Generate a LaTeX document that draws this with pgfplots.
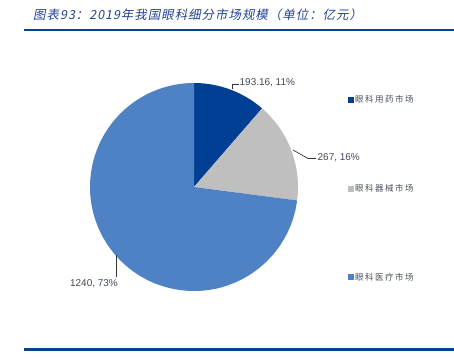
\documentclass[border=0pt]{standalone}
\usepackage{fontspec}
\usepackage{pgfplots}
\usepackage{pgfplotstable}
\pgfplotsset{compat=1.18}
\setmainfont{Liberation Sans}
\newfontfamily\cjkleg{Noto Sans CJK SC}[LetterSpace=18]
\newfontfamily\cjktitle{Noto Sans CJK SC}[FakeSlant=0.2,LetterSpace=8]
\definecolor{cA}{RGB}{0,63,148}
\definecolor{cB}{RGB}{191,191,191}
\definecolor{cC}{RGB}{79,130,196}
\definecolor{lineC}{RGB}{10,65,150}
\definecolor{titleC}{RGB}{35,65,145}
\definecolor{labC}{RGB}{64,72,88}
\definecolor{legC}{RGB}{70,78,92}

\pgfplotstableread{
value pct
193.16 11
267 16
1240 73
}\piedata

\begin{document}
\begin{tikzpicture}
\pgfplotstablegetelem{0}{value}\of\piedata \let\vA\pgfplotsretval
\pgfplotstablegetelem{1}{value}\of\piedata \let\vB\pgfplotsretval
\pgfplotstablegetelem{2}{value}\of\piedata \let\vC\pgfplotsretval
\pgfplotstablegetelem{0}{pct}\of\piedata \let\pA\pgfplotsretval
\pgfplotstablegetelem{1}{pct}\of\piedata \let\pB\pgfplotsretval
\pgfplotstablegetelem{2}{pct}\of\piedata \let\pC\pgfplotsretval
\pgfmathsetmacro\tot{\vA+\vB+\vC}
\pgfmathsetmacro\aO{90}
\pgfmathsetmacro\aA{90-360*(\vA/\tot)}
\pgfmathsetmacro\aB{\aA-360*(\vB/\tot)}
\pgfmathsetmacro\aC{\aB-360*(\vC/\tot)}
\pgfmathsetmacro\cx{194}
\pgfmathsetmacro\cy{171}
\pgfmathsetmacro\R{104}
\pgfmathsetmacro\xO{\cx+\R*cos(\aO)}\pgfmathsetmacro\yO{\cy+\R*sin(\aO)}
\pgfmathsetmacro\xA{\cx+\R*cos(\aA)}\pgfmathsetmacro\yA{\cy+\R*sin(\aA)}
\pgfmathsetmacro\xB{\cx+\R*cos(\aB)}\pgfmathsetmacro\yB{\cy+\R*sin(\aB)}
\begin{axis}[
  hide axis, scale only axis, width=454bp, height=358bp,
  xmin=0, xmax=454, ymin=0, ymax=358, clip=false,
  legend cell align=left,
  legend style={draw=none, fill=none, at={(axis cs:345,169.5)}, anchor=west,
    font=\cjkleg\fontsize{8.5}{10}\selectfont, text=legC,
    row sep=77bp, nodes={inner sep=1.5bp}},
]
\addlegendimage{legend image code/.code={\fill[cA] (0bp,-2.5bp) rectangle (5bp,2.5bp);}}
\addlegendentry{眼科用药市场}
\addlegendimage{legend image code/.code={\fill[cB] (0bp,-2.5bp) rectangle (5bp,2.5bp);}}
\addlegendentry{眼科器械市场}
\addlegendimage{legend image code/.code={\fill[cC] (0bp,-2.5bp) rectangle (5bp,2.5bp);}}
\addlegendentry{眼科医疗市场}

\fill[cA] (axis cs:\cx,\cy) -- (axis cs:\xO,\yO) arc[start angle=\aO, end angle=\aA, radius=104bp] -- cycle;
\fill[cB] (axis cs:\cx,\cy) -- (axis cs:\xA,\yA) arc[start angle=\aA, end angle=\aB, radius=104bp] -- cycle;
\fill[cC] (axis cs:\cx,\cy) -- (axis cs:\xB,\yB) arc[start angle=\aB, end angle=\aC, radius=104bp] -- cycle;

% leader lines and labels
\draw[black!80, line width=0.7bp] (axis cs:232.5,268.7) -- (axis cs:232.5,273.5) -- (axis cs:239,273.5);
\node[anchor=west, inner sep=0.5bp, font=\fontsize{10}{12}\selectfont, text=labC] at (axis cs:239,275.5) {\vA, \pA\%};
\draw[black!80, line width=0.7bp] (axis cs:293,208) -- (axis cs:308,199.5) -- (axis cs:316,199.5);
\node[anchor=west, inner sep=0.5bp, font=\fontsize{10}{12}\selectfont, text=labC] at (axis cs:317,200.5) {\vB, \pB\%};
\draw[black!80, line width=0.7bp] (axis cs:116.7,103) -- (axis cs:116.7,81);
\node[anchor=east, inner sep=0.5bp, font=\fontsize{10}{12}\selectfont, text=labC] at (axis cs:118.5,74) {\vC, \pC\%};

% title and rules
\node[anchor=west, inner sep=0pt, font=\cjktitle\fontsize{12.5}{14}\selectfont, text=titleC] at (axis cs:33,343) {图表93：2019年我国眼科细分市场规模（单位：亿元）};
\draw[lineC, line width=2.2bp] (axis cs:24,328) -- (axis cs:454,328);
\draw[lineC, line width=2.2bp] (axis cs:24,8.5) -- (axis cs:454,8.5);
\end{axis}
\pgfresetboundingbox
\path (current axis.south west) rectangle (current axis.north east);
\end{tikzpicture}
\end{document}
